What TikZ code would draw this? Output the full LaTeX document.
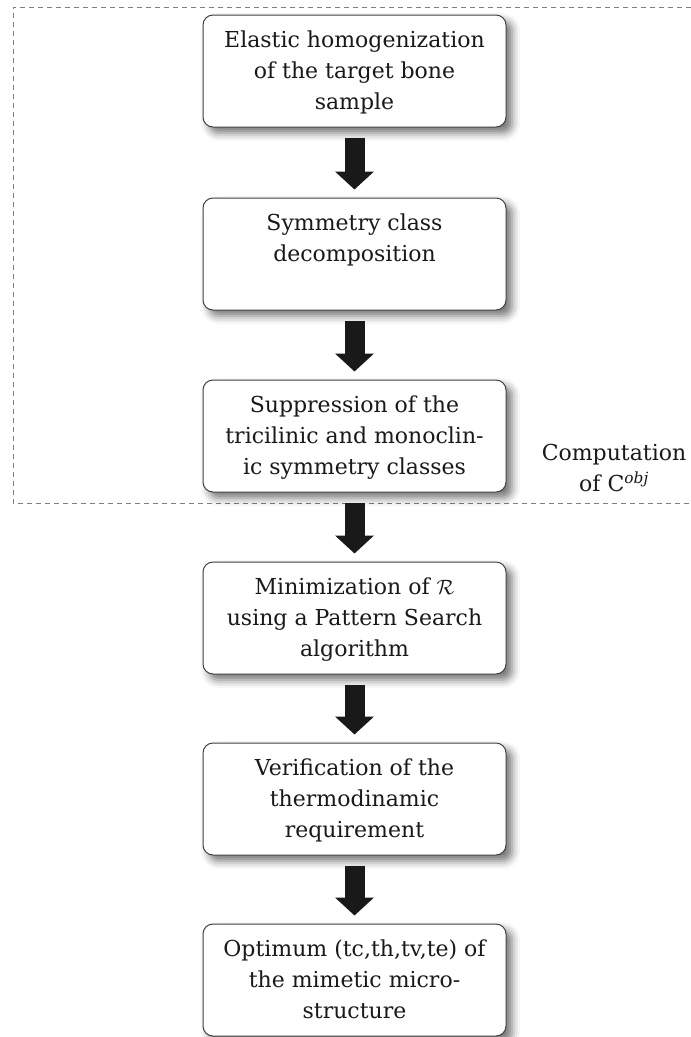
\documentclass[tikz,border=0pt]{standalone}
\usepackage{fontspec}
\setmainfont{DejaVu Serif}
\usetikzlibrary{arrows.meta,shadows.blur}
\newcommand{\bxtext}[1]{\parbox[c][112pt][t]{300pt}{\centering\rule{0pt}{32pt}#1}}
\tikzset{
  stepbox/.style={draw=black!75, line width=1pt, rounded corners=10pt, fill=white,
    inner sep=0pt, minimum width=303pt, minimum height=112pt,
    blur shadow={shadow xshift=6pt, shadow yshift=-6pt, shadow blur radius=8pt, shadow opacity=55},
    text=black!90, font=\fontsize{22}{31}\selectfont},
  flowarrow/.style={draw=black!90, line width=20pt, -{Triangle[length=18pt,width=38pt]}},
  grouprect/.style={draw=black!50, line width=1pt, dash pattern=on 5pt off 4pt},
  sidelabel/.style={align=center, text=black!90, font=\fontsize{22}{31}\selectfont, inner sep=0pt}
}
\begin{document}
\begin{tikzpicture}[x=1pt,y=-1pt]
\useasboundingbox (0,0) rectangle (691,1037);
\coordinate (g1) at (691,7);
\coordinate (g2) at (13,7);
\coordinate (g3) at (13,503);
\coordinate (g4) at (691,503);
\draw[grouprect] (g1) -- (g2) -- (g3) -- (g4);

\node[stepbox] (b1) at (354.5,71) {\bxtext{Elastic homogenization\\ of the target bone\\ sample}};
\node[stepbox] (b2) at (354.5,254) {\bxtext{Symmetry class\\ decomposition}};
\node[stepbox] (b3) at (354.5,436) {\bxtext{Suppression of the\\ tricilinic and monoclin-\\ ic symmetry classes}};
\node[stepbox] (b4) at (354.5,618) {\bxtext{Minimization of $\mathcal{R}$\\ using a Pattern Search\\ algorithm}};
\node[stepbox] (b5) at (354.5,799) {\bxtext{Verification of the\\ thermodinamic\\ requirement}};
\node[stepbox] (b6) at (354.5,980) {\bxtext{Optimum (tc,th,tv,te) of\\ the mimetic micro-\\ structure}};

\node[sidelabel] (lab) at (614,468) {Computation\\ of C\textsuperscript{\itshape obj}};

\foreach \a/\b in {b1/b2,b2/b3,b3/b4,b4/b5,b5/b6}
  \draw[flowarrow] ([yshift=-10pt]\a.south) -- ([yshift=8pt]\b.north);
\end{tikzpicture}
\end{document}
